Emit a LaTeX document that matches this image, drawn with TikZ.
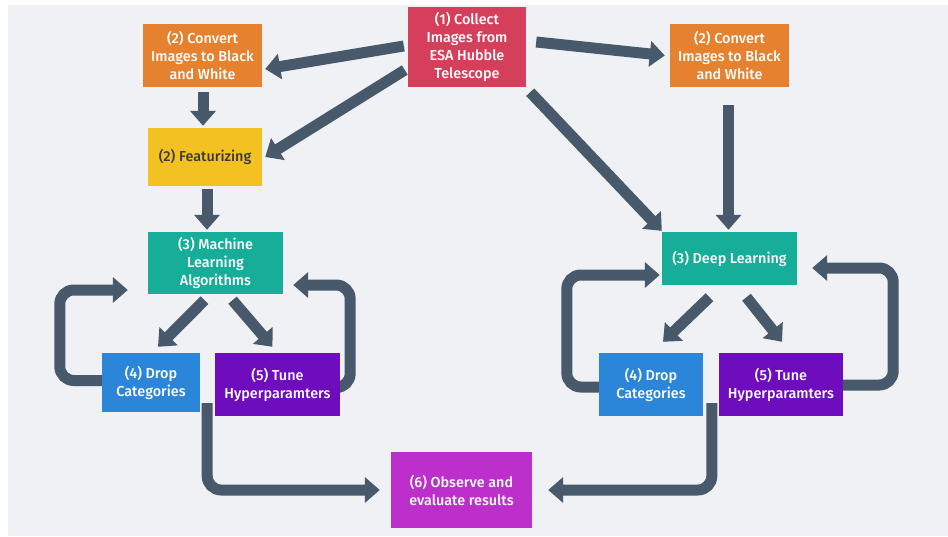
\documentclass[tikz,border=0pt]{standalone}
\usepackage{fontspec}
\setmainfont{Fira Sans}[BoldFont={Fira Sans Medium}]
\usetikzlibrary{arrows.meta,calc}
\pgfdeclarelayer{background}
\pgfsetlayers{background,main}
\definecolor{panel}{HTML}{EFF1F4}
\definecolor{cred}{HTML}{D53F5B}
\definecolor{corange}{HTML}{E6822F}
\definecolor{cyellow}{HTML}{F4C123}
\definecolor{cteal}{HTML}{16AE98}
\definecolor{cblue}{HTML}{2B86D9}
\definecolor{cpurple}{HTML}{6D0DBD}
\definecolor{cmagenta}{HTML}{BD2FCB}
\definecolor{carrow}{HTML}{47596A}
\definecolor{ctext}{HTML}{3A3A3A}
\tikzset{
  box/.style={rectangle, inner sep=0pt, align=center, text=white,
    font=\fontsize{14.4}{18}\selectfont\bfseries},
  conn/.style={draw=carrow, line width=11pt,
    -{Triangle[width=25pt,length=15pt]}, rounded corners=14pt}
}
\begin{document}
\begin{tikzpicture}[x=1pt,y=-1pt]
\begin{pgfonlayer}{background}
\fill[white] (0,0) rectangle (948,536);
\fill[panel] (8,5) rectangle (948,536);
\end{pgfonlayer}
\useasboundingbox (0,0) rectangle (948,536);

\node[box, fill=cred, minimum width=118pt, minimum height=80pt] (collect) at (467,47)
  {(1) Collect\\Images from\\ESA Hubble\\Telescope};
\node[box, fill=corange, minimum width=119pt, minimum height=63pt] (convL) at (202.5,55.5)
  {(2) Convert\\Images to Black\\and White};
\node[box, fill=corange, minimum width=119pt, minimum height=63pt] (convR) at (729.5,55.5)
  {(2) Convert\\Images to Black\\and White};
\node[box, fill=cyellow, text=ctext, minimum width=114pt, minimum height=58pt] (feat) at (205,157)
  {(2) Featurizing};
\node[box, fill=cteal, minimum width=135pt, minimum height=62pt] (ml) at (215.5,263)
  {(3) Machine\\Learning\\Algorithms};
\node[box, fill=cteal, minimum width=135pt, minimum height=53pt] (dl) at (729.5,258.5)
  {(3) Deep Learning};
\node[box, fill=cblue, minimum width=98pt, minimum height=59pt] (dropL) at (151,382.5)
  {(4) Drop\\Categories};
\node[box, fill=cpurple, minimum width=125pt, minimum height=63pt] (tuneL) at (277.5,384.5)
  {(5) Tune\\Hyperparamters};
\node[box, fill=cblue, minimum width=104pt, minimum height=63pt] (dropR) at (651,384.5)
  {(4) Drop\\Categories};
\node[box, fill=cpurple, minimum width=124pt, minimum height=63pt] (tuneR) at (781,384.5)
  {(5) Tune\\Hyperparamters};
\node[box, fill=cmagenta, minimum width=141pt, minimum height=76pt] (obs) at (461.5,490)
  {(6) Observe and\\evaluate results};

\begin{pgfonlayer}{background}
\draw[conn] ($(collect.west)+(-4,-1)$) -- ($(convL.east)+(3,13.5)$);
\draw[conn] ($(collect.west)+(-3,23)$) -- ($(feat.east)+(3,0)$);
\draw[conn] ($(collect.east)+(10,-5)$) -- ($(convR.west)+(-5,0)$);
\draw[conn] ($(collect.south east)+(4,5)$) -- ($(dl.north west)+(0,-1)$);
\draw[conn] ($(convL.south)+(0.5,5)$) -- ($(convL.south |- feat.north)+(0.5,-2)$);
\draw[conn] ($(convR.south)+(-1,18)$) -- ($(convR.south |- dl.north)+(-1,-2)$);
\draw[conn] ($(feat.south)+(2,3)$) -- ($(feat.south |- ml.north)+(2,-2)$);
\draw[conn] ($(ml.south)+(-11,6)$) -- ($(dropL.north)+(7,-6)$);
\draw[conn] ($(ml.south)+(17,6)$) -- ($(tuneL.north)+(-5,-6)$);
\draw[conn] ($(dropL.west)+(2,-2)$) -| ($(ml.west)+(-88,27)$) -- ($(ml.west)+(-20,27)$);
\draw[conn] ($(tuneL.east)+(-2,3)$) -| ($(ml.east)+(67,22)$) -- ($(ml.east)+(10,22)$);
\draw[conn] ($(dl.south)+(-20,12)$) -- ($(dropR.north)+(12,-11)$);
\draw[conn] ($(dl.south)+(17,12)$) -- ($(tuneR.north)+(1,-11)$);
\draw[conn] ($(dropR.west)+(2,2.5)$) -| ($(dl.west)+(-95,16.5)$) -- ($(dl.west)+(-2,16.5)$);
\draw[conn] ($(tuneR.east)+(-2,0.5)$) -| ($(dl.east)+(96,9.5)$) -- ($(dl.east)+(15,9.5)$);
\draw[conn] ($(dropL.south east)+(7,-9)$) |- ($(obs.west)+(-11,0)$);
\draw[conn] ($(tuneR.south west)+(-7,-13)$) |- ($(obs.east)+(16,0)$);
\end{pgfonlayer}
\end{tikzpicture}
\end{document}
